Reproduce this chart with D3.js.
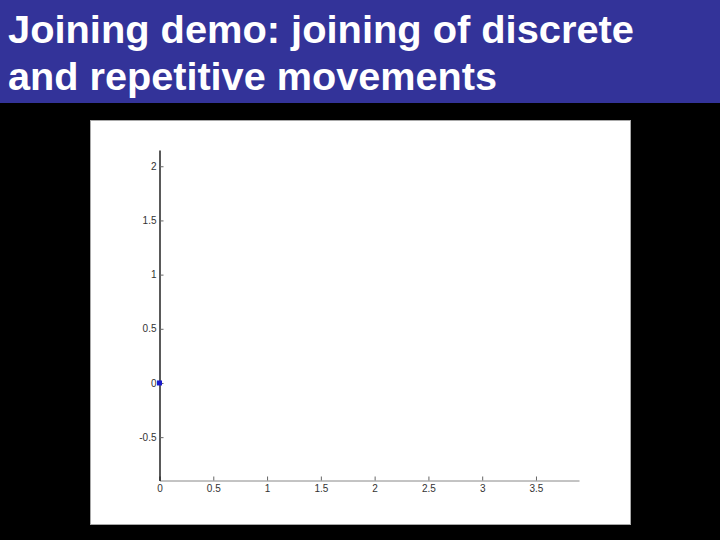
<!DOCTYPE html>
<html>
<head>
<meta charset="utf-8">
<script src="https://cdn.jsdelivr.net/npm/d3@7"></script>
<style>
  html, body { margin: 0; padding: 0; background: #000; }
  svg { display: block; }
</style>
</head>
<body>
<svg id="chart"></svg>
<script>
const titleLines = ["Joining demo: joining of discrete", "and repetitive movements"];
const xTicks = [0, 0.5, 1, 1.5, 2, 2.5, 3, 3.5];
const yTicks = [-0.5, 0, 0.5, 1, 1.5, 2];
const xDomain = [0, 3.9];
const yDomain = [-0.9, 2.15];
const points = [{x: 0, y: 0}];

function main() {
  const width = 720, height = 540;
  const svg = d3.select("#chart").attr("width", width).attr("height", height);

  svg.append("rect").attr("width", width).attr("height", height).attr("fill", "#000");
  drawHeader(svg, width);

  // white figure panel
  svg.append("rect")
    .attr("x", 90.5).attr("y", 120.5)
    .attr("width", 540).attr("height", 404)
    .attr("fill", "#fff")
    .attr("stroke", "#a8a8a8");

  const x = d3.scaleLinear().domain(xDomain).range([159.5, 579]);
  const y = d3.scaleLinear().domain(yDomain).range([480.5, 150]);
  drawAxes(svg, x, y);

  svg.append("g").selectAll("rect")
    .data(points)
    .join("rect")
    .attr("x", d => x(d.x) - 2.5)
    .attr("y", d => y(d.y) - 2.5)
    .attr("width", 5).attr("height", 5)
    .attr("fill", "#1a1acc");
}

function drawHeader(svg, width) {
  svg.append("rect").attr("width", width).attr("height", 103).attr("fill", "#333399");
  const lens = [626, 489];
  svg.append("g").selectAll("text")
    .data(titleLines)
    .join("text")
    .attr("x", 8)
    .attr("y", (d, i) => 43 + i * 47)
    .attr("fill", "#fff")
    .attr("font-family", "Liberation Sans, Arial, sans-serif")
    .attr("font-weight", "bold")
    .attr("font-size", 38)
    .attr("textLength", (d, i) => lens[i])
    .attr("lengthAdjust", "spacingAndGlyphs")
    .text(d => d);
}

function drawAxes(svg, x, y) {
  const fmt = d => String(d);
  const xAxis = svg.append("g")
    .attr("transform", `translate(0,${y(yDomain[0])})`)
    .call(d3.axisBottom(x).tickValues(xTicks).tickFormat(fmt).tickSizeInner(-4).tickSizeOuter(0).tickPadding(4));
  xAxis.select(".domain").attr("stroke", "#888");
  xAxis.selectAll(".tick line").attr("stroke", "#666");

  const yAxis = svg.append("g")
    .attr("transform", `translate(${x(xDomain[0])},0)`)
    .call(d3.axisLeft(y).tickValues(yTicks).tickFormat(fmt).tickSizeInner(-4).tickSizeOuter(0).tickPadding(3));
  yAxis.select(".domain").attr("stroke", "#000").attr("stroke-width", 1.3);
  yAxis.selectAll(".tick line").attr("stroke", "#666");

  svg.selectAll(".tick text")
    .attr("font-family", "Liberation Sans, Arial, sans-serif")
    .attr("font-size", 10)
    .attr("fill", "#333");
}

main();
</script>
</body>
</html>
